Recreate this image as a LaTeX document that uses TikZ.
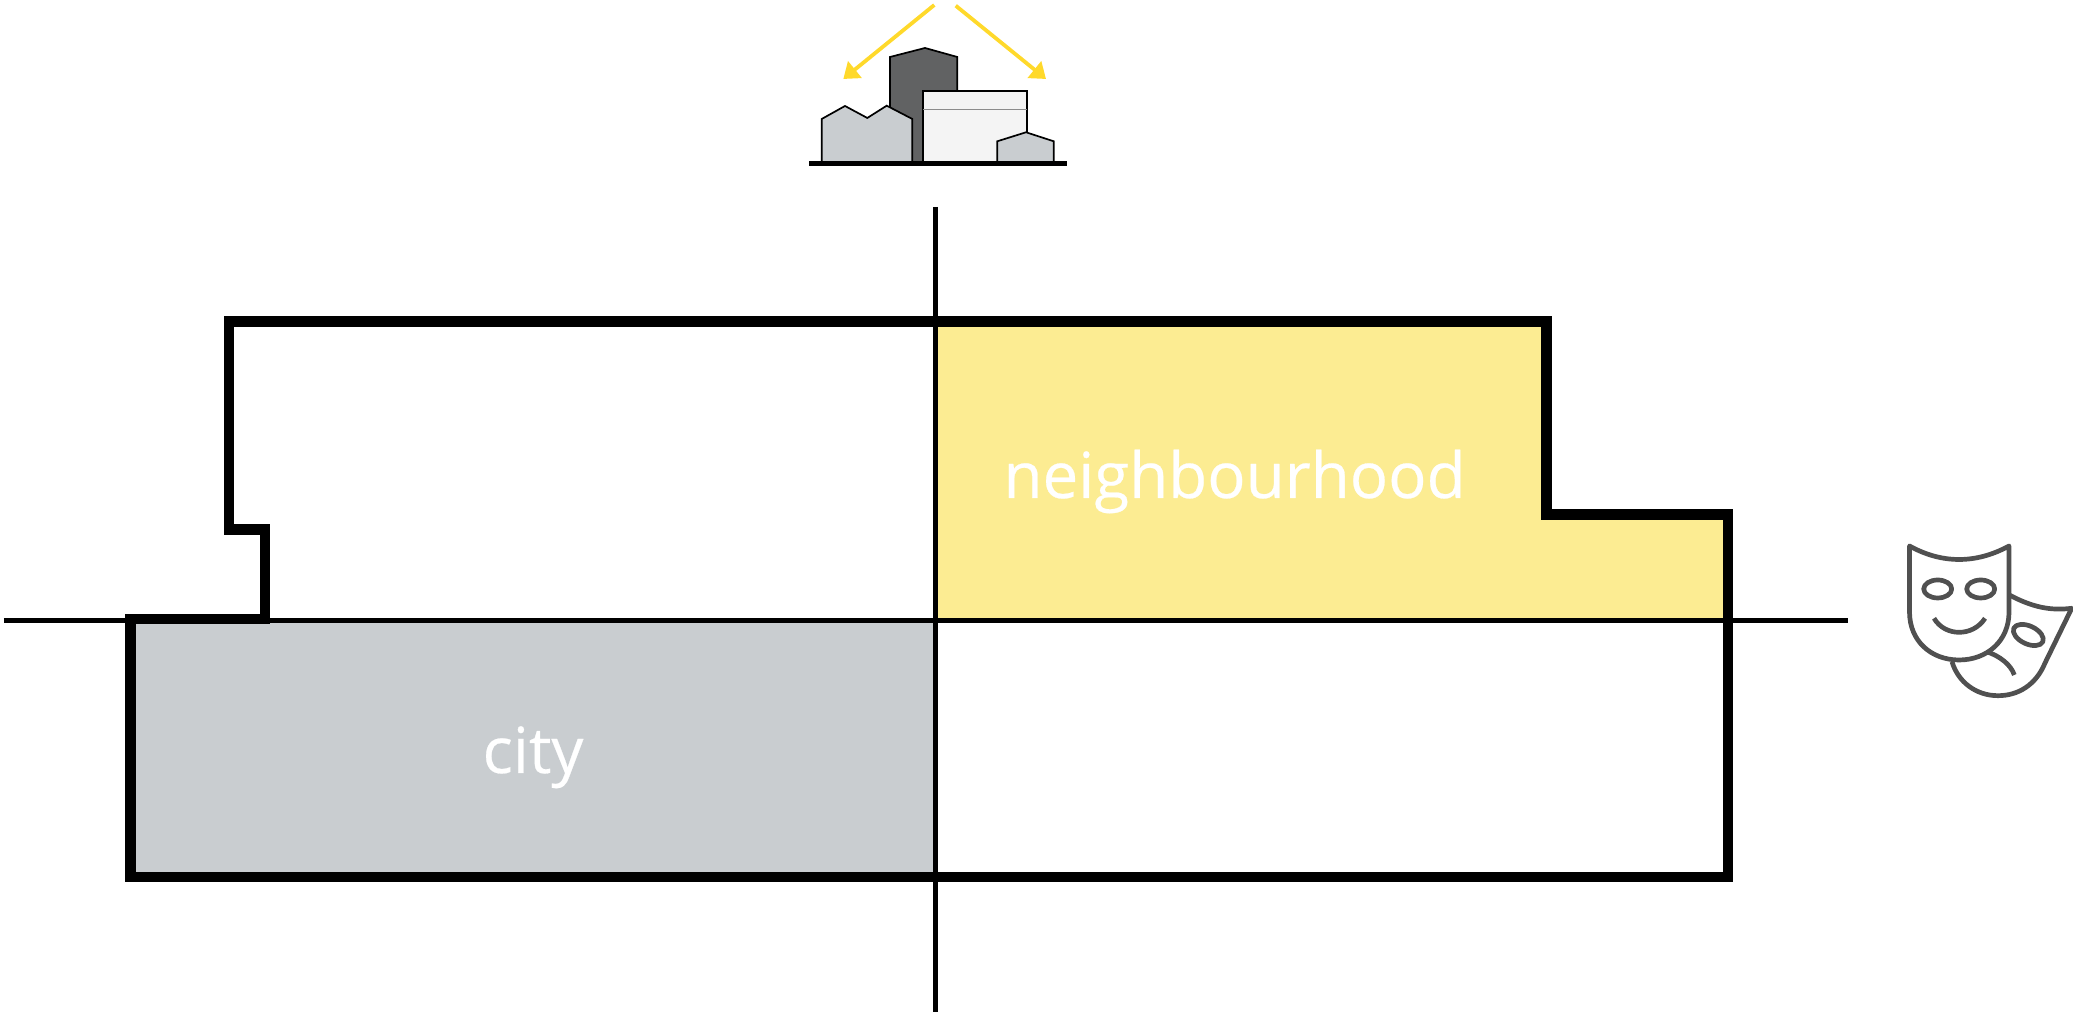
\documentclass[tikz,border=0pt]{standalone}
\usepackage{fontspec}
\setmainfont[FakeBold=0.4]{Open Sans}
\usetikzlibrary{arrows.meta}
\definecolor{cityfill}{HTML}{C9CDD0}
\definecolor{quarterfill}{HTML}{FCEC92}
\definecolor{sunray}{HTML}{FFD92B}
\definecolor{towerfill}{HTML}{616263}
\definecolor{blockfill}{HTML}{F4F4F4}
\definecolor{maskline}{HTML}{505050}
\tikzset{
	axisline/.style={line width=0.57mm, color=black},
	boundary/.style={line width=1.07mm, color=black, miter limit=10},
	building/.style={line width=0.17mm, color=black},
	rayarrow/.style={line width=0.38mm, color=sunray, -{Triangle[length=1.5mm, width=2.1mm]}},
	maskstroke/.style={line width=0.47mm, color=maskline, line join=round},
	arealabel/.style={color=white, font=\fontsize{18.1}{22}\selectfont, anchor=base}
}

\begin{document}
\begin{tikzpicture}
	\useasboundingbox (0, 0) rectangle (20.73, 10.14);

	% filled quarters
	\fill[color=cityfill] (1.305, 3.94) rectangle (9.355, 1.37);
	\fill[color=quarterfill] (9.355, 6.93) rectangle (15.465, 3.94);
	\fill[color=quarterfill] (15.465, 4.995) rectangle (17.28, 3.94);

	% axes
	\draw[axisline] (0.04, 3.935) -- (18.48, 3.935);
	\draw[axisline] (9.355, 8.07) -- (9.355, 0.02);

	% boundary
	\draw[boundary] (2.29, 6.927) -- (15.465, 6.927) -- (15.465, 4.995) -- (17.28, 4.995) -- (17.28, 1.37)
		-- (1.305, 1.37) -- (1.305, 3.95) -- (2.65, 3.95) -- (2.65, 4.845) -- (2.29, 4.845) -- cycle;

	% labels
	\node[arealabel] (neighbourhood) at (12.345, 5.16) {neighbourhood};
	\node[arealabel] (city) at (5.33, 2.41) {city};

	% buildings
	\draw[building, fill=towerfill] (8.90, 8.51) -- (8.90, 9.57) -- (9.25, 9.66) -- (9.573, 9.57) -- (9.573, 8.51) -- cycle;
	\draw[building, fill=cityfill] (8.217, 8.50) -- (8.217, 8.95) -- (8.45, 9.08) -- (8.673, 8.96) -- (8.867, 9.083) -- (9.123, 8.95) -- (9.123, 8.50) -- cycle;
	\draw[building, fill=blockfill] (9.227, 8.50) -- (9.227, 9.23) -- (10.267, 9.23) -- (10.267, 8.50) -- cycle;
	\draw[line width=0.15mm, color=black!45] (9.227, 9.043) -- (10.267, 9.043);
	\draw[building, fill=cityfill] (9.973, 8.50) -- (9.973, 8.727) -- (10.26, 8.817) -- (10.537, 8.727) -- (10.537, 8.50) -- cycle;
	\draw[line width=0.45mm] (8.09, 8.507) -- (10.67, 8.507);

	% arrows
	\coordinate (raystart left) at (9.343, 10.09);
	\coordinate (rayend left) at (8.433, 9.35);
	\coordinate (raystart right) at (9.557, 10.083);
	\coordinate (rayend right) at (10.46, 9.35);
	\draw[rayarrow] (raystart left) -- (rayend left);
	\draw[rayarrow] (raystart right) -- (rayend right);

	% back mask
	\draw[maskstroke] (20.093, 4.19) .. controls (20.32, 4.07) and (20.50, 4.03) .. (20.717, 4.057)
		-- (20.45, 3.51) .. controls (20.36, 3.29) and (20.18, 3.183) .. (19.98, 3.183)
		.. controls (19.76, 3.183) and (19.58, 3.32) .. (19.52, 3.522);
	\draw[maskstroke, rotate around={-25:(20.283, 3.79)}] (20.283, 3.79) ellipse (0.16 and 0.09);
	\draw[maskstroke, line cap=butt] (19.867, 3.622) .. controls (20.0, 3.58) and (20.11, 3.49) .. (20.143, 3.39);

	% front mask
	\draw[maskstroke, fill=white] (19.095, 4.68) .. controls (19.42, 4.50) and (19.76, 4.50) .. (20.09, 4.68)
		-- (20.09, 4.02) .. controls (20.09, 3.73) and (19.87, 3.54) .. (19.59, 3.54)
		.. controls (19.31, 3.54) and (19.095, 3.73) .. (19.095, 4.02) -- cycle;
	\draw[maskstroke] (19.377, 4.25) ellipse (0.14 and 0.09);
	\draw[maskstroke] (19.807, 4.25) ellipse (0.14 and 0.09);
	\draw[maskstroke] (19.34, 3.957) .. controls (19.45, 3.77) and (19.73, 3.77) .. (19.85, 3.957);
\end{tikzpicture}
\end{document}
